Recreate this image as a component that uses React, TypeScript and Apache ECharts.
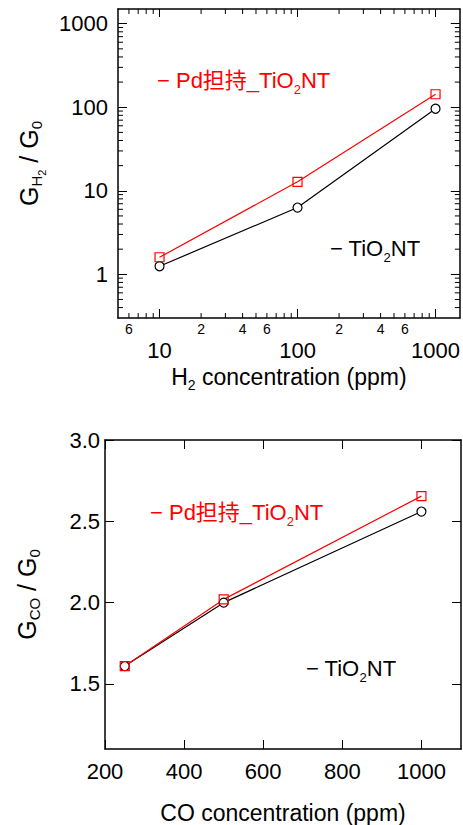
import React, { useEffect, useRef } from "react";
import * as echarts from "echarts";

// ---- data ----
const h2Conc = [10, 100, 1000];
const h2TiO2 = [1.25, 6.3, 96];
const h2Pd = [1.6, 12.8, 143];

const coConc = [250, 500, 1000];
const coTiO2 = [1.61, 2.0, 2.56];
const coPd = [1.61, 2.02, 2.655];

// ---- axis ticks ----
const h2XMajor = [10, 100, 1000];
const h2YMajor = [1, 10, 100, 1000];
const h2XMinor = [6, 7, 8, 9, 20, 30, 40, 50, 60, 70, 80, 90, 200, 300, 400, 500, 600, 700, 800, 900];
const h2YMinor = [0.4, 0.5, 0.6, 0.7, 0.8, 0.9, 2, 3, 4, 5, 6, 7, 8, 9, 20, 30, 40, 50, 60, 70, 80, 90, 200, 300, 400, 500, 600, 700, 800, 900];
const h2XMinorLabels = [6, 20, 40, 60, 200, 400, 600];
const coXTicks = [200, 400, 600, 800, 1000];
const coYTicks = [1.5, 2.0, 2.5, 3.0];

const FONT = "'Liberation Sans', Arial, 'Noto Sans CJK JP', sans-serif";
const RED = "#ff0000";
const BLACK = "#000000";

const H2_X = [5, 1500];
const H2_Y = [0.3, 1500];

// rich styles for axis names (ECharts text style uses color)
function richAxis(color: string, main: number, sub: number, subPad: number, lh: number) {
  return {
    n: { fontSize: main, fontFamily: FONT, color, lineHeight: lh },
    s: { fontSize: sub, fontFamily: FONT, color, lineHeight: lh, padding: [subPad, 0, 0, 0] },
  };
}
// rich styles for graphic texts (zrender style uses fill)
function richGraphic(color: string, main: number, sub: number, subPad: number, lh: number) {
  return {
    n: { fontSize: main, fontFamily: FONT, fill: color, lineHeight: lh },
    s: { fontSize: sub, fontFamily: FONT, fill: color, lineHeight: lh, padding: [subPad, 0, 0, 0] },
  };
}

export default function App() {
  const ref = useRef<HTMLDivElement>(null);
  useEffect(() => {
    if (!ref.current) return;
    const chart = echarts.init(ref.current, undefined, { renderer: "svg" });
    const axisLine = { show: true, lineStyle: { color: BLACK, width: 1.5 } };
    const tickStyle = { color: BLACK, width: 1 };
    const minorTickLen = 5;
    const LBL = 22;

    const legend = (x: number, y: number, pre: string, color: string) => ({
      type: "text", x, y,
      style: {
        text: `{n|${pre}TiO}{s|2}{n|NT}`,
        rich: richGraphic(color, 22, 13, 18, 28),
        fill: color, font: `22px ${FONT}`,
        textVerticalAlign: "middle", textAlign: "left",
      },
    });

    const yNameRich = {
      n: { fontSize: 25, fontFamily: FONT, color: BLACK, lineHeight: 30 },
      s: { fontSize: 15, fontFamily: FONT, color: BLACK, lineHeight: 30, padding: [15, 0, 0, 0] },
      ss: { fontSize: 11, fontFamily: FONT, color: BLACK, lineHeight: 30, padding: [26, 0, 0, 0] },
    };

    const option: any = {
      animation: false,
      backgroundColor: "#fff",
      grid: [
        { left: 118, top: 9, width: 343, height: 309 },
        { left: 105, top: 440, width: 356, height: 310 },
      ],
      xAxis: [
        {
          type: "log", gridIndex: 0, position: "bottom", min: H2_X[0], max: H2_X[1],
          axisLine, splitLine: { show: false },
          axisTick: { show: true, inside: true, length: 9, lineStyle: tickStyle, customValues: h2XMajor },
          axisLabel: { show: true, customValues: h2XMajor, margin: 21, fontSize: LBL, fontFamily: FONT, color: BLACK, formatter: (v: number) => String(Math.round(v)) },
          name: "{n|H}{s|2}{n| concentration (ppm)}", nameLocation: "middle", nameGap: 40,
          nameTextStyle: { rich: richAxis(BLACK, 23, 14, 16, 28) },
        },
        {
          type: "log", gridIndex: 0, position: "top", min: H2_X[0], max: H2_X[1],
          axisLine, splitLine: { show: false },
          axisTick: { show: true, inside: true, length: 8, lineStyle: tickStyle, customValues: h2XMajor },
          axisLabel: { show: false },
        },
        {
          type: "value", gridIndex: 1, position: "bottom", min: 200, max: 1100,
          axisLine, splitLine: { show: false },
          axisTick: { show: true, inside: true, length: 9, lineStyle: tickStyle, customValues: coXTicks },
          axisLabel: { show: true, customValues: coXTicks, margin: 11, fontSize: LBL, fontFamily: FONT, color: BLACK, formatter: (v: number) => String(v) },
          name: "CO concentration (ppm)", nameLocation: "middle", nameGap: 52,
          nameTextStyle: { fontSize: 23, fontFamily: FONT, color: BLACK },
        },
        {
          type: "value", gridIndex: 1, position: "top", min: 200, max: 1100,
          axisLine, splitLine: { show: false },
          axisTick: { show: true, inside: true, length: 9, lineStyle: tickStyle, customValues: coXTicks },
          axisLabel: { show: false },
        },
      ],
      yAxis: [
        {
          type: "log", gridIndex: 0, position: "left", min: H2_Y[0], max: H2_Y[1],
          axisLine, splitLine: { show: false },
          axisTick: { show: true, inside: true, length: 9, lineStyle: tickStyle, customValues: h2YMajor },
          axisLabel: { show: true, customValues: h2YMajor, margin: 10, fontSize: LBL, fontFamily: FONT, color: BLACK, formatter: (v: number) => String(Math.round(v)) },
          name: "{n|G}{s|H}{ss|2}{n| / G}{s|0}", nameLocation: "middle", nameGap: 74, nameRotate: 90,
          nameTextStyle: { rich: yNameRich },
        },
        {
          type: "log", gridIndex: 0, position: "right", min: H2_Y[0], max: H2_Y[1],
          axisLine, splitLine: { show: false },
          axisTick: { show: true, inside: true, length: 9, lineStyle: tickStyle, customValues: h2YMajor },
          axisLabel: { show: false },
        },
        {
          type: "value", gridIndex: 1, position: "left", min: 1.1, max: 3.0,
          axisLine, splitLine: { show: false },
          axisTick: { show: true, inside: true, length: 9, lineStyle: tickStyle, customValues: coYTicks },
          axisLabel: { show: true, customValues: coYTicks, margin: 5, fontSize: LBL, fontFamily: FONT, color: BLACK, formatter: (v: number) => v.toFixed(1) },
          name: "{n|G}{s|CO}{n| / G}{s|0}", nameLocation: "middle", nameGap: 63, nameRotate: 90,
          nameTextStyle: { rich: yNameRich },
        },
        {
          type: "value", gridIndex: 1, position: "right", min: 1.1, max: 3.0,
          axisLine, splitLine: { show: false },
          axisTick: { show: true, inside: true, length: 9, lineStyle: tickStyle, customValues: coYTicks },
          axisLabel: { show: false },
        },
      ],
      graphic: [
        legend(157, 80, "− Pd担持_", RED),
        legend(330, 248, "− ", BLACK),
        legend(150, 512, "− Pd担持_", RED),
        legend(306, 668, "− ", BLACK),
      ],
      series: [
        {
          type: "custom", xAxisIndex: 0, yAxisIndex: 0, clip: false, silent: true,
          data: h2XMinor.map((v) => [v, 1]),
          renderItem: (_p: any, api: any) => {
            const x = api.value(0);
            const b = api.coord([x, H2_Y[0]]);
            const t = api.coord([x, H2_Y[1]]);
            return {
              type: "group",
              children: [
                { type: "line", shape: { x1: b[0], y1: b[1], x2: b[0], y2: b[1] - minorTickLen }, style: { stroke: BLACK, lineWidth: 1 } },
                { type: "line", shape: { x1: t[0], y1: t[1], x2: t[0], y2: t[1] + minorTickLen }, style: { stroke: BLACK, lineWidth: 1 } },
              ],
            };
          },
        },
        {
          type: "custom", xAxisIndex: 0, yAxisIndex: 0, clip: false, silent: true,
          data: h2YMinor.map((v) => [10, v]),
          renderItem: (_p: any, api: any) => {
            const y = api.value(1);
            const l = api.coord([H2_X[0], y]);
            const r = api.coord([H2_X[1], y]);
            return {
              type: "group",
              children: [
                { type: "line", shape: { x1: l[0], y1: l[1], x2: l[0] + minorTickLen, y2: l[1] }, style: { stroke: BLACK, lineWidth: 1 } },
                { type: "line", shape: { x1: r[0], y1: r[1], x2: r[0] - minorTickLen, y2: r[1] }, style: { stroke: BLACK, lineWidth: 1 } },
              ],
            };
          },
        },
        {
          type: "custom", xAxisIndex: 0, yAxisIndex: 0, clip: false, silent: true,
          data: h2XMinorLabels.map((v) => [v, 1]),
          renderItem: (_p: any, api: any) => {
            const x = api.value(0);
            const b = api.coord([x, H2_Y[0]]);
            const txt = String(x).charAt(0);
            return {
              type: "text", x: b[0], y: b[1] + 11,
              style: { text: txt, fontSize: 14, fontFamily: FONT, fill: BLACK, textAlign: "center", textVerticalAlign: "middle" },
            };
          },
        },
        {
          name: "TiO2NT", type: "line", xAxisIndex: 0, yAxisIndex: 0,
          data: h2Conc.map((x, i) => [x, h2TiO2[i]]),
          symbol: "circle", symbolSize: 9,
          lineStyle: { color: BLACK, width: 1.2 },
          itemStyle: { color: "#fff", borderColor: BLACK, borderWidth: 1.2 },
        },
        {
          name: "Pd担持_TiO2NT", type: "line", xAxisIndex: 0, yAxisIndex: 0,
          data: h2Conc.map((x, i) => [x, h2Pd[i]]),
          symbol: "rect", symbolSize: 9,
          lineStyle: { color: RED, width: 1.2 },
          itemStyle: { color: "rgba(255,255,255,0)", borderColor: RED, borderWidth: 1.2 },
        },
        {
          name: "TiO2NT CO", type: "line", xAxisIndex: 2, yAxisIndex: 2,
          data: coConc.map((x, i) => [x, coTiO2[i]]),
          symbol: "circle", symbolSize: 9,
          lineStyle: { color: BLACK, width: 1.2 },
          itemStyle: { color: "#fff", borderColor: BLACK, borderWidth: 1.2 },
        },
        {
          name: "Pd担持_TiO2NT CO", type: "line", xAxisIndex: 2, yAxisIndex: 2,
          data: coConc.map((x, i) => [x, coPd[i]]),
          symbol: "rect", symbolSize: 9,
          lineStyle: { color: RED, width: 1.2 },
          itemStyle: { color: "rgba(255,255,255,0)", borderColor: RED, borderWidth: 1.2 },
        },
      ],
    };
    chart.setOption(option);
    return () => chart.dispose();
  }, []);
  return <div ref={ref} style={{ position: "absolute", left: 0, top: 0, width: 463, height: 825, background: "#fff" }} />;
}
